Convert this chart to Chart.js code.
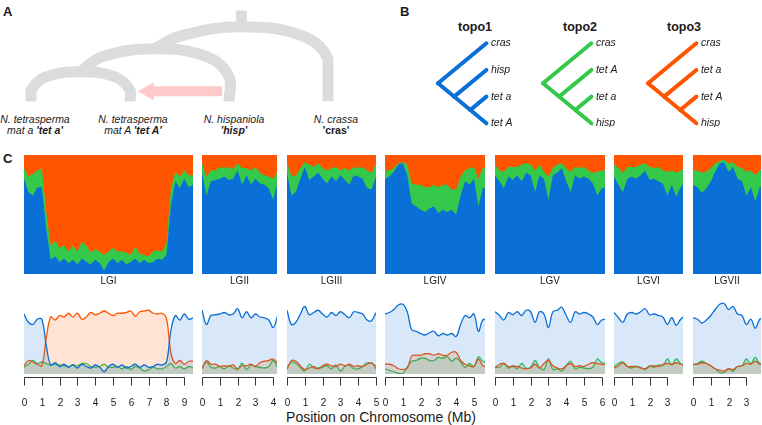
<!DOCTYPE html>
<html>
<head>
<meta charset="utf-8">
<title>TopologyWeighting</title>
<style>
  body { margin: 0; background: #fff; font-family: "Liberation Sans", Arial, Helvetica, sans-serif; }
  #fig { position: relative; width: 762px; height: 425px; overflow: hidden; }
  #fig canvas { position: absolute; }
  .lbl { position: absolute; color: #1a1a1a; white-space: nowrap; }
  .panel { font-weight: bold; font-size: 13px; }
  .sp { font-size: 10.5px; line-height: 11px; text-align: center; font-style: italic; transform: translateX(-50%); }
  .topo { font-weight: bold; font-size: 12.5px; transform: translateX(-50%); }
</style>
<script src="https://cdn.jsdelivr.net/npm/chart.js"></script>
</head>
<body>
<div id="fig">
  <div class="lbl panel" style="left:3px;top:4px">A</div>
  <div class="lbl panel" style="left:400px;top:4px">B</div>
  <div class="lbl panel" style="left:3px;top:151px">C</div>

  <div class="lbl sp" style="left:35px;top:114px">N. tetrasperma<br>mat a <b>'tet a'</b></div>
  <div class="lbl sp" style="left:133px;top:114px">N. tetrasperma<br>mat A <b>'tet A'</b></div>
  <div class="lbl sp" style="left:234px;top:114px">N. hispaniola<br><b>'hisp'</b></div>
  <div class="lbl sp" style="left:336px;top:114px">N. crassa<br><b style="font-style:normal">'cras'</b></div>

  <div class="lbl topo" style="left:475px;top:20px">topo1</div>
  <div class="lbl topo" style="left:580px;top:20px">topo2</div>
  <div class="lbl topo" style="left:684px;top:20px">topo3</div>

  <div class="lbl" style="left:381px;top:409px;font-size:14px;transform:translateX(-50%)">Position on Chromosome (Mb)</div>
</div>

<script>
	// ---- data: topology weights per 0.25 Mb window (topo1 / topo2 / topo3) ----
	const chromNames = ['LGI', 'LGII', 'LGIII', 'LGIV', 'LGV', 'LGVI', 'LGVII'];
	const chromLengths = [9.49, 4.21, 5.0, 5.62, 6.18, 3.88, 3.82];
	const windowStep = 0.25;

	const lg1Topo1 = [.80,.69,.66,.73,.73,.38,.12,.15,.10,.13,.09,.12,.08,.13,.10,.08,.12,.09,.03,.10,.13,.09,.12,.08,.10,.13,.09,.12,.09,.10,.13,.12,.16,.58,.78,.72,.80,.73,.75];
	const lg1Topo2 = [.09,.13,.18,.14,.16,.14,.12,.13,.12,.11,.10,.12,.11,.14,.14,.10,.09,.10,.13,.09,.09,.10,.07,.10,.06,.10,.08,.04,.06,.09,.07,.07,.10,.14,.08,.10,.07,.10,.08];
	const lg1Topo3 = [.11,.18,.16,.13,.11,.48,.76,.72,.78,.76,.81,.76,.81,.73,.76,.82,.79,.81,.84,.81,.78,.81,.81,.82,.84,.77,.83,.84,.85,.81,.80,.81,.74,.28,.14,.18,.13,.17,.17];

	const lg2Topo1 = [.85,.66,.78,.79,.80,.82,.79,.80,.87,.75,.83,.75,.80,.76,.75,.72,.62,.78];
	const lg2Topo2 = [.08,.16,.09,.08,.10,.07,.11,.08,.06,.14,.06,.12,.10,.09,.08,.10,.18,.08];
	const lg2Topo3 = [.07,.18,.13,.13,.10,.11,.10,.12,.07,.11,.11,.13,.10,.15,.17,.18,.20,.14];

	const lg3Topo1 = [.85,.66,.69,.80,.90,.79,.82,.85,.80,.76,.82,.78,.83,.79,.75,.83,.82,.80,.72,.71,.82];
	const lg3Topo2 = [.09,.16,.14,.09,.04,.13,.08,.08,.09,.11,.07,.12,.04,.10,.12,.07,.07,.10,.15,.14,.11];
	const lg3Topo3 = [.06,.18,.17,.11,.06,.08,.10,.07,.11,.13,.11,.10,.13,.11,.13,.10,.11,.10,.13,.15,.07];

	const lg4Topo1 = [.80,.82,.86,.92,.93,.83,.59,.57,.54,.52,.55,.57,.51,.54,.52,.54,.50,.66,.78,.75,.80,.57,.72,.73];
	const lg4Topo2 = [.07,.05,.03,.01,.01,.09,.17,.18,.21,.21,.18,.18,.22,.21,.23,.17,.21,.16,.09,.14,.10,.23,.17,.16];
	const lg4Topo3 = [.13,.13,.11,.07,.06,.08,.24,.25,.25,.27,.27,.25,.27,.25,.25,.29,.29,.18,.13,.11,.10,.20,.11,.11];

	const lg5Topo1 = [.83,.78,.72,.82,.79,.83,.78,.85,.83,.69,.83,.80,.62,.83,.85,.89,.78,.69,.83,.80,.82,.80,.76,.66,.72,.73];
	const lg5Topo2 = [.09,.09,.14,.08,.11,.07,.14,.08,.09,.18,.09,.06,.20,.06,.07,.04,.11,.17,.07,.09,.08,.07,.09,.20,.15,.14];
	const lg5Topo3 = [.08,.13,.14,.10,.10,.10,.08,.07,.08,.13,.08,.14,.18,.11,.08,.07,.11,.14,.10,.11,.10,.13,.15,.14,.13,.13];

	const lg6Topo1 = [.82,.75,.69,.80,.82,.80,.83,.87,.79,.80,.78,.76,.66,.75,.65,.73,.78];
	const lg6Topo2 = [.10,.14,.16,.10,.08,.10,.09,.06,.11,.09,.12,.11,.20,.12,.20,.14,.11];
	const lg6Topo3 = [.08,.11,.15,.10,.10,.10,.08,.07,.10,.11,.10,.13,.14,.13,.15,.13,.11];

	const lg7Topo1 = [.75,.73,.68,.72,.78,.86,.93,.94,.86,.90,.80,.78,.66,.73,.61,.73,.75];
	const lg7Topo2 = [.12,.14,.17,.14,.11,.07,.02,.02,.07,.04,.10,.11,.20,.14,.22,.14,.14];
	const lg7Topo3 = [.13,.13,.15,.14,.11,.07,.05,.04,.07,.06,.10,.11,.14,.13,.17,.13,.11];

	const topo1Weights = [lg1Topo1, lg2Topo1, lg3Topo1, lg4Topo1, lg5Topo1, lg6Topo1, lg7Topo1];
	const topo2Weights = [lg1Topo2, lg2Topo2, lg3Topo2, lg4Topo2, lg5Topo2, lg6Topo2, lg7Topo2];
	const topo3Weights = [lg1Topo3, lg2Topo3, lg3Topo3, lg4Topo3, lg5Topo3, lg6Topo3, lg7Topo3];

	// panel B: one ladder-shaped cladogram, tips listed top to bottom
	const cladeBranches = [[[0, 1.5], [3, 0]], [[0, 1.5], [3, 3]], [[1, 2], [3, 1]], [[2, 2.5], [3, 2]]];
	const topo1Tips = ['cras', 'hisp', 'tet a', 'tet A'];
	const topo2Tips = ['cras', 'tet A', 'tet a', 'hisp'];
	const topo3Tips = ['cras', 'tet a', 'tet A', 'hisp'];

	// panel A: species tree, leaves at 0..3 (tet a, tet A, hisp, cras), heights in px above leaves
	const arcLeftX = [0, 0.5, 1.25];
	const arcRightX = [1, 2, 3];
	const arcLeftBase = [0, 35, 62];
	const arcRightBase = [0, 0, 0];
	const arcTopY = [35, 62, 88];
	const stemTopY = 107;
	const flowFromX = 1.93, flowToX = 1.08, flowY = 12;   // introgression hisp -> tet A

	// ---- styling / layout ----
	const TOPO_COLORS = ['#0a6fd6', '#34c94a', '#ff5400'];
	const FILL_COLORS = ['rgba(10,111,214,0.16)', 'rgba(52,201,74,0.16)', 'rgba(255,84,0,0.16)'];
	const pxPerMb = 17.8, panelGap = 9.45, firstLeft = 24;
	const pxPerLeaf = 99;
	const FONT = '"Liberation Sans", Arial, sans-serif';

	Chart.defaults.animation = false;
	Chart.defaults.responsive = false;
	Chart.defaults.font.family = FONT;
	Chart.defaults.plugins.legend.display = false;
	Chart.defaults.plugins.tooltip.enabled = false;

	const fig = document.getElementById('fig');
	function addCanvas(left, top, w, h) {
		const c = document.createElement('canvas');
		c.width = w; c.height = h;
		c.style.left = left + 'px'; c.style.top = top + 'px';
		fig.appendChild(c);
		return c.getContext('2d');
	}

	const chromLabelPlugin = {
		id: 'chromLabel',
		afterDraw(chart, args, opts) {
			const {ctx, chartArea} = chart;
			ctx.save();
			ctx.font = '10px ' + FONT;
			ctx.fillStyle = '#1a1a1a';
			ctx.textAlign = 'center';
			ctx.textBaseline = 'middle';
			ctx.fillText(opts.text, (chartArea.left + chartArea.right) / 2, chartArea.bottom + 7.5);
			ctx.restore();
		}
	};

	// R style axis: line only from first to last tick, offset below the plot
	const baseAxisPlugin = {
		id: 'baseAxis',
		afterDraw(chart) {
			const {ctx, chartArea} = chart;
			const sc = chart.scales.x;
			const vals = [];
			for (let v = 0; v <= sc.max + 1e-9; v++) vals.push(v);
			const y0 = Math.round(chartArea.bottom) + 3.5;
			const px = vals.map(v => Math.round(sc.getPixelForValue(v)) + 0.5);
			ctx.save();
			ctx.strokeStyle = '#333';
			ctx.lineWidth = 1;
			ctx.beginPath();
			ctx.moveTo(px[0], y0); ctx.lineTo(px[px.length - 1], y0);
			px.forEach(x => { ctx.moveTo(x, y0); ctx.lineTo(x, y0 + 8); });
			ctx.stroke();
			ctx.font = '10px ' + FONT;
			ctx.fillStyle = '#1a1a1a';
			ctx.textAlign = 'center';
			ctx.textBaseline = 'middle';
			vals.forEach((v, i) => ctx.fillText(String(v), px[i], y0 + 26));
			ctx.restore();
		}
	};

	const tipLabelPlugin = {
		id: 'tipLabels',
		afterDraw(chart, args, opts) {
			const {ctx, scales} = chart;
			ctx.save();
			ctx.font = 'italic 10.5px ' + FONT;
			ctx.fillStyle = '#1a1a1a';
			ctx.textAlign = 'left';
			ctx.textBaseline = 'middle';
			opts.tips.forEach((t, i) => ctx.fillText(t, scales.x.getPixelForValue(3) + 4.5, scales.y.getPixelForValue(i)));
			ctx.restore();
		}
	};

	// ---- panel C ----
	let left = firstLeft;
	chromNames.forEach((name, k) => {
		const len = chromLengths[k];
		const L = Math.round(left), W = Math.round(left + len * pxPerMb) - L;
		const series = [topo1Weights[k], topo2Weights[k], topo3Weights[k]]
			.map(arr => arr.map((v, i) => ({x: i * windowStep, y: v})));

		// stacked weights (top row)
		new Chart(addCanvas(L, 155, W, 133), {
			type: 'line',
			data: {
				datasets: series.map((d, j) => ({
					data: d,
					borderWidth: 0,
					backgroundColor: TOPO_COLORS[j],
					pointRadius: 0,
					fill: 'origin',
					tension: 0
				}))
			},
			options: {
				layout: { padding: { bottom: 14 } },
				scales: {
					x: { type: 'linear', display: false, min: 0, max: len },
					y: { display: false, stacked: true, min: 0, max: 1 }
				},
				plugins: { chromLabel: { text: name } }
			},
			plugins: [chromLabelPlugin]
		});

		// smoothed weights as lines (bottom row)
		new Chart(addCanvas(L - 8, 299, W + 16, 111), {
			type: 'line',
			data: {
				datasets: [0, 2, 1].map(j => ({
					data: series[j],
					borderColor: TOPO_COLORS[j],
					backgroundColor: FILL_COLORS[j],
					borderWidth: 1.3,
					pointRadius: 0,
					fill: 'origin',
					tension: 0.4
				}))
			},
			options: {
				layout: { padding: { left: 8, right: 8, bottom: 36 } },
				scales: {
					x: { type: 'linear', display: false, min: 0, max: len },
					y: { display: false, min: 0, max: 1 }
				}
			},
			plugins: [baseAxisPlugin]
		});

		left += len * pxPerMb + panelGap;
	});

	// ---- panel B ----
	const treeRootsX = [438.3, 543.3, 648];
	[topo1Tips, topo2Tips, topo3Tips].forEach((tips, t) => {
		const L = Math.round(treeRootsX[t]) - 4;
		new Chart(addCanvas(L, 39, 93, 88), {
			type: 'scatter',
			data: {
				datasets: cladeBranches.map(b => ({
					data: b.map(p => ({x: p[0], y: p[1]})),
					showLine: true,
					borderColor: TOPO_COLORS[t],
					borderWidth: 4,
					borderCapStyle: 'round',
					pointRadius: 0,
					clip: false
				}))
			},
			options: {
				layout: { padding: { left: 4, right: 40.6, top: 4.3, bottom: 3.7 } },
				scales: {
					x: { type: 'linear', display: false, min: 0, max: 3 },
					y: { type: 'linear', display: false, min: 0, max: 3, reverse: true }
				},
				plugins: { tipLabels: { tips: tips } }
			},
			plugins: [tipLabelPlugin]
		});
	});

	// ---- panel A ----
	function arcPoints(k) {
		const xl = arcLeftX[k], xr = arcRightX[k], top = arcTopY[k];
		const xc = (xl + xr) / 2, half = (xr - xl) / 2;
		const rise = 0.44 * half * pxPerLeaf;
		const side = (x, base, dir) => {
			const pts = [{x: x, y: base}];
			if (top - rise > base) pts.push({x: x, y: top - rise});
			pts.push({x: xc + dir * 0.71 * half, y: top - 0.29 * rise});
			return pts;
		};
		return [...side(xl, arcLeftBase[k], -1), {x: xc, y: top}, ...side(xr, arcRightBase[k], 1).reverse()];
	}
	const treeGrey = '#dcdcdc';
	const arrowPink = '#ffc9c9';
	const headR = 10.5;
	const headX = flowToX + headR / pxPerLeaf;
	const stemX = (arcLeftX[2] + arcRightX[2]) / 2;

	new Chart(addCanvas(0, 0, 380, 112), {
		type: 'scatter',
		data: {
			datasets: [
				{ data: [{x: headX, y: flowY}], pointStyle: 'triangle', rotation: 270, pointRadius: headR,
				  backgroundColor: arrowPink, borderWidth: 0, clip: false },
				{ data: [{x: flowFromX, y: flowY}, {x: headX + 0.05, y: flowY}], showLine: true,
				  borderColor: arrowPink, borderWidth: 10, pointRadius: 0, clip: false },
				{ data: [{x: stemX, y: arcTopY[2]}, {x: stemX, y: stemTopY}], showLine: true,
				  borderColor: treeGrey, borderWidth: 11, pointRadius: 0, clip: false },
				...[0, 1, 2].map(k => ({
					data: arcPoints(k), showLine: true, tension: 0.4,
					borderColor: treeGrey, borderWidth: 11, pointRadius: 0, clip: false
				}))
			]
		},
		options: {
			layout: { padding: { left: 31, right: 52, top: 0, bottom: 5 } },
			scales: {
				x: { type: 'linear', display: false, min: 0, max: 3 },
				y: { type: 'linear', display: false, min: 0, max: stemTopY }
			}
		}
	});
</script>
</body>
</html>
